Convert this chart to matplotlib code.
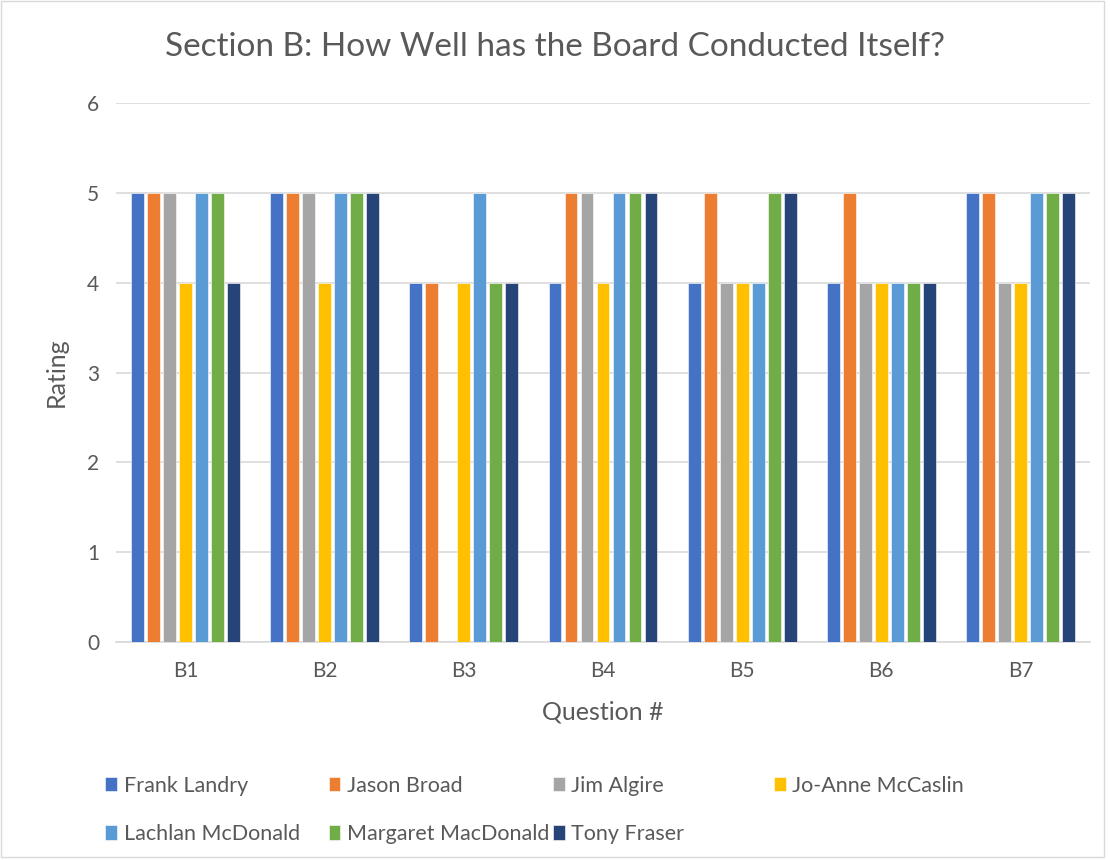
import numpy as np
import matplotlib.pyplot as plt
from matplotlib.patches import Rectangle

plt.rcParams['font.family'] = ['Lato', 'DejaVu Sans']

questions = ['B1', 'B2', 'B3', 'B4', 'B5', 'B6', 'B7']
people = ['Frank Landry', 'Jason Broad', 'Jim Algire', 'Jo-Anne McCaslin',
          'Lachlan McDonald', 'Margaret MacDonald', 'Tony Fraser']
colors = ['#4472C4', '#ED7D31', '#A5A5A5', '#FFC000',
          '#5B9BD5', '#70AD47', '#264478']

frank = [5, 5, 4, 4, 4, 4, 5]
jason = [5, 5, 4, 5, 5, 5, 5]
jim = [5, 5, 0, 5, 4, 4, 4]
joanne = [4, 4, 4, 4, 4, 4, 4]
lachlan = [5, 5, 5, 5, 4, 4, 5]
margaret = [5, 5, 4, 5, 5, 4, 5]
tony = [4, 5, 4, 5, 5, 4, 5]
ratings = [frank, jason, jim, joanne, lachlan, margaret, tony]

txt = '#595959'
grid = '#D9D9D9'

fig = plt.figure(figsize=(11.1, 8.6), dpi=100)
ax = fig.add_axes([0.1045, 0.2535, 0.8775, 0.6267])

x = np.arange(len(questions))
step = 0.115
width = 0.092
bars = []
for i, (name, vals) in enumerate(zip(people, ratings)):
    b = ax.bar(x + (i - 3) * step, vals, width, color=colors[i], label=name,
               edgecolor='white', linewidth=0.4, zorder=3)
    bars.append(b)

ax.set_xlim(-0.5, len(questions) - 0.5)
ax.set_ylim(0, 6)
ax.set_yticks(range(7))
ax.set_xticks(x)
ax.set_xticklabels(questions)
ax.yaxis.grid(True, color=grid, linewidth=1.2, zorder=0)
ax.tick_params(length=0, labelsize=15, colors=txt)
ax.tick_params(axis='y', pad=12)
ax.tick_params(axis='x', pad=14)
for s in ['top', 'right', 'left']:
    ax.spines[s].set_visible(False)
ax.spines['bottom'].set_color(grid)
ax.spines['bottom'].set_linewidth(1.2)

ax.set_xlabel('Question #', fontsize=18, color=txt, labelpad=14)
ax.set_ylabel('Rating', fontsize=18, color=txt, labelpad=14)

fig.text(0.5, 0.945, 'Section B: How Well has the Board Conducted Itself?',
         ha='center', va='center', fontsize=24, color=txt)

# legend: 4 columns, series i and i+4 in column i
col_x = [0.095, 0.296, 0.498, 0.697]
for c in range(4):
    idx = [c] + ([c + 4] if c + 4 < len(people) else [])
    fig.legend([bars[k] for k in idx], [people[k] for k in idx],
               loc='upper left', bbox_to_anchor=(col_x[c], 0.098),
               frameon=False, fontsize=15.5, labelcolor=txt,
               handlelength=0.55, handleheight=0.65, handletextpad=0.3,
               labelspacing=1.32, borderaxespad=0, borderpad=0)

fig.patches.append(Rectangle((0.001, 0.004), 0.994, 0.995, transform=fig.transFigure,
                             fill=False, edgecolor=grid, linewidth=1))

fig.savefig('out.png', dpi=100)
